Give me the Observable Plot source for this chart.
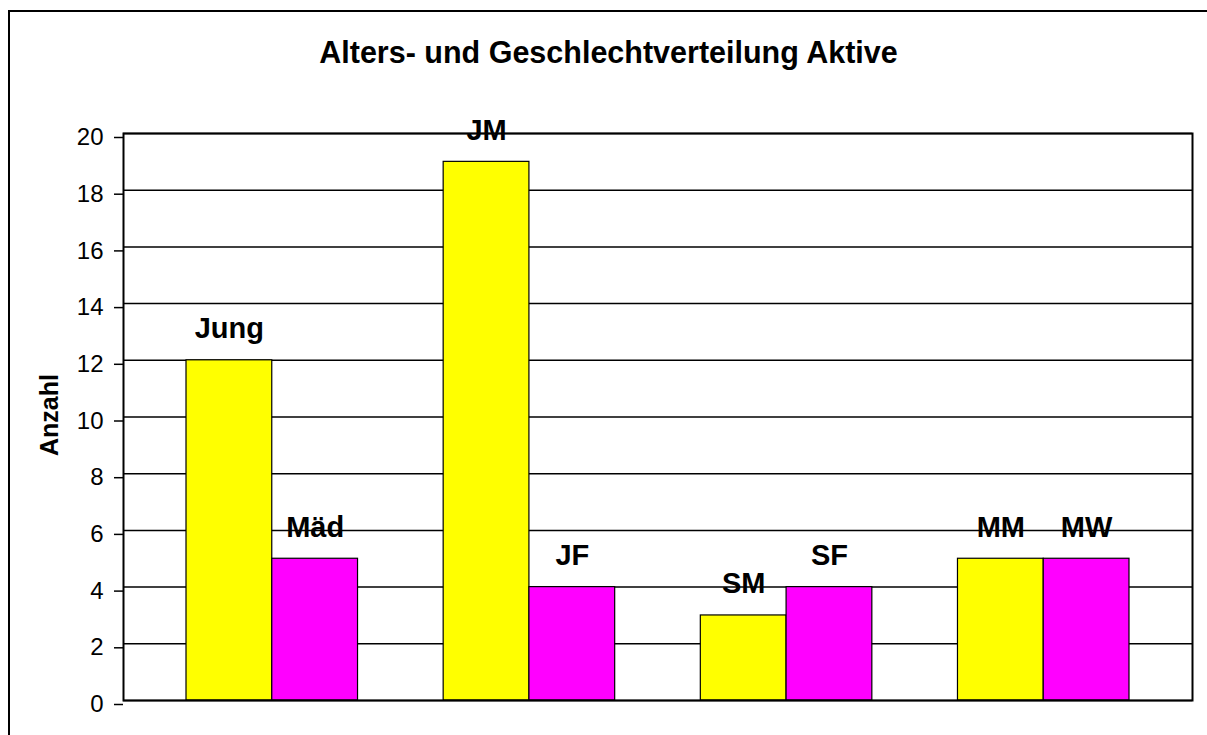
<!DOCTYPE html>
<html>
<head>
<meta charset="utf-8">
<script src="https://cdn.jsdelivr.net/npm/d3@7"></script>
<script src="https://cdn.jsdelivr.net/npm/@observablehq/plot@0.6"></script>
<style>
  html, body { margin: 0; padding: 0; background: #fff; }
  #chart { position: relative; width: 1207px; height: 735px; overflow: hidden; font-family: "Liberation Sans", Arial, sans-serif; }
  #border { position: absolute; left: 8px; top: 10px; width: 1300px; height: 800px; border-left: 2px solid #000; border-top: 2px solid #000; box-sizing: border-box; }
  #title { position: absolute; left: 0; top: 37px; width: 1217px; text-align: center; font: bold 30.5px "Liberation Sans", Arial, sans-serif; line-height: 1; color: #000; }
  #plot { position: absolute; left: 0; top: 0; }
</style>
</head>
<body>
<div id="chart">
  <div id="border"></div>
  <div id="title">Alters- und Geschlechtverteilung Aktive</div>
  <div id="plot"></div>
</div>
<script>
// ---- data ----
const groups = ["Jung/Mäd", "JM/JF", "SM/SF", "MM/MW"];
const yellowLabels = ["Jung", "JM", "SM", "MM"];
const yellowValues = [12, 19, 3, 5];
const magentaLabels = ["Mäd", "JF", "SF", "MW"];
const magentaValues = [5, 4, 4, 5];
const yTicks = [0, 2, 4, 6, 8, 10, 12, 14, 16, 18, 20];
const yLabel = "Anzahl";

const yellowData = groups.map((g, i) => ({group: g, value: yellowValues[i], label: yellowLabels[i]}));
const magentaData = groups.map((g, i) => ({group: g, value: magentaValues[i], label: magentaLabels[i]}));

const FONT = "Liberation Sans, Arial, sans-serif";

function make(bw) {
  return Plot.plot({
    width: 1207,
    height: 735,
    marginLeft: 123,
    marginRight: 15,
    marginTop: 133,
    marginBottom: 35,
    style: {fontFamily: FONT, fontSize: "24px", color: "#000", background: "transparent", overflow: "visible"},
    x: {type: "band", domain: groups, paddingInner: 0.333, paddingOuter: 0.245, round: false, axis: null},
    y: {domain: [0, 20], axis: null},
    marks: [
      Plot.ruleY(yTicks, {stroke: "#000", strokeWidth: 1.5}),
      Plot.axisY({ticks: yTicks, tickSize: 9, tickPadding: 11, fontSize: 24, dy: 4, strokeWidth: 1.5, label: null, fill: "#000", stroke: "#000"}),
      Plot.barY(yellowData, {x: "group", y: "value", fill: "#ffff00", stroke: "#000", strokeWidth: 1.2, insetRight: bw / 2}),
      Plot.barY(magentaData, {x: "group", y: "value", fill: "#ff00ff", stroke: "#000", strokeWidth: 1.2, insetLeft: bw / 2}),
      Plot.text(yellowData, {x: "group", y: "value", text: "label", dx: -bw / 4, dy: -22, lineAnchor: "bottom", fontWeight: "bold", fontSize: 29, fill: "#000"}),
      Plot.text(magentaData, {x: "group", y: "value", text: "label", dx: bw / 4, dy: -22, lineAnchor: "bottom", fontWeight: "bold", fontSize: 29, fill: "#000"}),
      Plot.text([yLabel], {frameAnchor: "left", text: d => d, rotate: -90, dx: -66, dy: -2, lineAnchor: "bottom", textAnchor: "middle", fontWeight: "bold", fontSize: 25, fill: "#000"}),
      Plot.frame({stroke: "#000", strokeWidth: 2})
    ]
  });
}

const probe = make(0);
const bw = probe.scale("x").bandwidth;
document.getElementById("plot").appendChild(make(bw));
</script>
</body>
</html>
